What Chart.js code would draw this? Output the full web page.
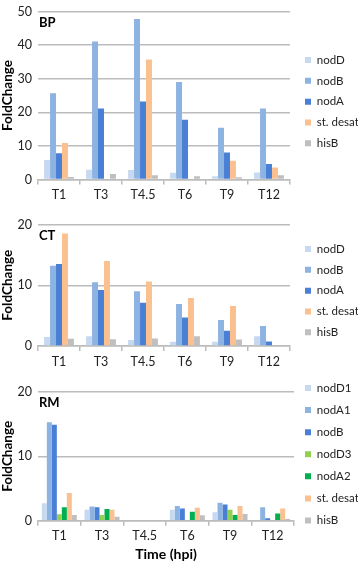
<!DOCTYPE html>
<html>
<head>
<meta charset="utf-8">
<title>FoldChange</title>
<script src="https://cdn.jsdelivr.net/npm/chart.js@4.4.1/dist/chart.umd.min.js"></script>
<style>
  html, body { margin: 0; padding: 0; background: #fff; width: 358px; height: 564px; overflow: hidden; }
  canvas { position: absolute; left: 0; }
</style>
</head>
<body>
<canvas id="bpChart" width="358" height="202" style="top:-2px"></canvas>
<canvas id="ctChart" width="358" height="156" style="top:211px"></canvas>
<canvas id="rmChart" width="358" height="189" style="top:375px"></canvas>
<script>
// Time points (x categories)
const timePoints = ["T1", "T3", "T4.5", "T6", "T9", "T12"];

// BP panel
const bpNodD  = [5.8, 2.9, 2.8, 2.0, 1.0, 2.1];
const bpNodB  = [25.7, 41.1, 47.8, 29.0, 15.4, 21.1];
const bpNodA  = [7.8, 21.1, 23.2, 17.8, 8.0, 4.6];
const bpDesat = [10.9, 0, 35.7, 0, 5.6, 3.6];
const bpHisB  = [0.75, 1.6, 1.3, 1.0, 0.65, 1.3];
const bpYTicks = [0, 10, 20, 30, 40, 50];

// CT panel
const ctNodD  = [1.5, 1.6, 1.0, 0.7, 0.7, 1.6];
const ctNodB  = [13.2, 10.5, 9.0, 6.9, 4.3, 3.3];
const ctNodA  = [13.5, 9.2, 7.1, 4.7, 2.5, 0.75];
const ctDesat = [18.5, 14.0, 10.6, 7.9, 6.6, 0];
const ctHisB  = [1.2, 1.1, 1.25, 1.6, 1.05, 0];
const ctYTicks = [0, 10, 20];

// RM panel
const rmNodD1 = [2.7, 1.7, 0, 1.7, 1.3, 0];
const rmNodA1 = [15.3, 2.2, 0, 2.3, 2.8, 2.1];
const rmNodB  = [14.9, 2.1, 0, 1.9, 2.5, 0.4];
const rmNodD3 = [1.0, 0.9, 0, 0, 1.7, 0];
const rmNodA2 = [2.1, 1.8, 0, 1.4, 0.9, 1.1];
const rmDesat = [4.3, 1.7, 0, 2.0, 2.3, 1.9];
const rmHisB  = [0.9, 0.6, 0, 0.85, 1.05, 0.25];
const rmYTicks = [0, 10, 20];

const LIGHT_BLUE = "#c6d9f1";
const MID_BLUE = "#8db3e2";
const DARK_BLUE = "#4a7fd6";
const PEACH = "#fac090";
const GREY = "#bfbfbf";
const LIGHT_GREEN = "#92d050";
const GREEN = "#00b050";
const GRID = "#bcbcbc";
const TEXT = "#222";

Chart.defaults.font.family = "Lato";
Chart.defaults.font.size = 12.5;
Chart.defaults.color = TEXT;

function makeDataset(label, data, color) {
    return { label: label, data: data, backgroundColor: color, borderWidth: 0 };
}

// Panel letter in the corner, and put the legend where it sits in the figure
const panelLabel = {
    id: "panelLabel",
    afterLayout(chart, args, opts) {
        const lg = chart.legend;
        lg.left = opts.legendX; lg.right = lg.left + lg.width;
        lg.top = opts.legendY; lg.bottom = lg.top + lg.height;
    },
    afterDraw(chart, args, opts) {
        const ctx = chart.ctx;
        ctx.save();
        ctx.font = "bold 13px Lato";
        ctx.fillStyle = "#000";
        ctx.textBaseline = "middle";
        ctx.fillText(opts.text, chart.chartArea.left + 1, chart.chartArea.top + 11);
        ctx.restore();
    }
};

function makeChart(id, cfg) {
    const xScale = {
        grid: { display: true, drawOnChartArea: false, drawTicks: true, tickLength: 5, offset: true, color: GRID, lineWidth: 1.5 },
        border: { display: true, color: GRID, width: 1.5 },
        ticks: { padding: 3, color: TEXT },
        afterFit(scale) { scale.height = cfg.xHeight; }
    };
    if (cfg.xTitle) {
        xScale.title = { display: true, text: cfg.xTitle, color: "#000", font: { size: 14, weight: "bold" }, padding: { top: 0, bottom: 1 } };
    }

    return new Chart(document.getElementById(id), {
        type: "bar",
        data: { labels: timePoints, datasets: cfg.datasets },
        options: {
            responsive: false,
            animation: false,
            layout: { padding: { top: cfg.padTop || 0 } },
            datasets: { bar: { barPercentage: 1, categoryPercentage: cfg.catPct } },
            scales: {
                x: xScale,
                y: {
                    min: 0,
                    max: cfg.yTicks[cfg.yTicks.length - 1],
                    afterBuildTicks(scale) { scale.ticks = cfg.yTicks.map(v => ({ value: v })); },
                    ticks: { padding: 6, color: TEXT },
                    grid: { color: GRID, lineWidth: 1.5, drawTicks: false },
                    border: { display: false },
                    title: { display: true, text: "FoldChange", color: "#000", font: { size: 13.5, weight: "bold" }, padding: { top: 0, bottom: 0 } },
                    afterFit(scale) { scale.width = 38; }
                }
            },
            plugins: {
                tooltip: { enabled: false },
                legend: {
                    position: "right",
                    align: "start",
                    maxWidth: cfg.legendWidth,
                    labels: { boxWidth: 6, boxHeight: 6, padding: cfg.legendPad, color: TEXT, font: { size: 11.5 } }
                },
                panelLabel: { text: cfg.label, legendX: cfg.legendX, legendY: cfg.legendY }
            }
        },
        plugins: [panelLabel]
    });
}

makeChart("bpChart", {
    label: "BP",
    yTicks: bpYTicks,
    catPct: 0.71,
    xHeight: 20.5,
    legendWidth: 68, legendPad: 9.3, legendX: 295.7, legendY: 47,
    datasets: [
        makeDataset("nodD", bpNodD, LIGHT_BLUE),
        makeDataset("nodB", bpNodB, MID_BLUE),
        makeDataset("nodA", bpNodA, DARK_BLUE),
        makeDataset("st. desat", bpDesat, PEACH),
        makeDataset("hisB", bpHisB, GREY)
    ]
});

makeChart("ctChart", {
    label: "CT",
    yTicks: ctYTicks,
    catPct: 0.71,
    xHeight: 21,
    legendWidth: 68, legendPad: 9.3, legendX: 295.7, legendY: 23,
    datasets: [
        makeDataset("nodD", ctNodD, LIGHT_BLUE),
        makeDataset("nodB", ctNodB, MID_BLUE),
        makeDataset("nodA", ctNodA, DARK_BLUE),
        makeDataset("st. desat", ctDesat, PEACH),
        makeDataset("hisB", ctHisB, GREY)
    ]
});

makeChart("rmChart", {
    label: "RM",
    yTicks: rmYTicks,
    catPct: 0.82,
    xHeight: 43.3,
    padTop: 17,
    xTitle: "Time (hpi)",
    legendWidth: 64, legendPad: 10.6, legendX: 294.4, legendY: -3.4,
    datasets: [
        makeDataset("nodD1", rmNodD1, LIGHT_BLUE),
        makeDataset("nodA1", rmNodA1, MID_BLUE),
        makeDataset("nodB", rmNodB, DARK_BLUE),
        makeDataset("nodD3", rmNodD3, LIGHT_GREEN),
        makeDataset("nodA2", rmNodA2, GREEN),
        makeDataset("st. desat", rmDesat, PEACH),
        makeDataset("hisB", rmHisB, GREY)
    ]
});
</script>
</body>
</html>
